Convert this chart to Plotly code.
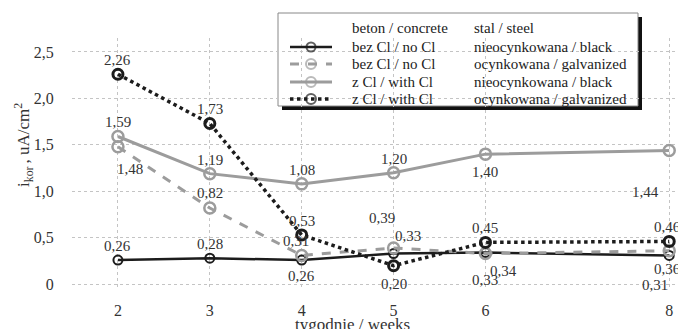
import plotly.graph_objects as go

weeks = [2, 3, 4, 5, 6, 8]
black_nocl = [0.26, 0.28, 0.26, 0.33, 0.34, 0.31]
galv_nocl = [1.48, 0.82, 0.31, 0.39, 0.33, 0.36]
black_cl = [1.59, 1.19, 1.08, 1.20, 1.40, 1.44]
galv_cl = [2.26, 1.73, 0.53, 0.20, 0.45, 0.46]

y_ticks = [0, 0.5, 1.0, 1.5, 2.0, 2.5]
y_tick_text = ["0", "0,5", "1,0", "1,5", "2,0", "2,5"]

FONT = "Liberation Serif"
BLACK = "#1c1c1c"
GRAY = "#9c9c9c"

# page offset of the figure (default body margin)
OFF = 8
W, H = 686, 329
# plot area in page pixels
PL, PR, PT, PB = 72, 683, 38, 287
FW, FH = W - OFF, H - OFF

series = [
    dict(y=black_nocl, color=BLACK, dash="solid", width=2.5, msize=9, mw=2,
         offs=[(0, 14), (0, 14), (0, -16), (14, 18), (18, -18), (-14, -30)]),
    dict(y=galv_nocl, color=GRAY, dash="dash", width=3, msize=11, mw=2.5,
         offs=[(12, -22), (0, 15), (-6, 14), (-12, 30), (0, -26), (-2, -18)]),
    dict(y=black_cl, color=GRAY, dash="solid", width=3, msize=11, mw=2.5,
         offs=[(0, 14), (0, 14), (0, 14), (0, 14), (0, -18), (-24, -42)]),
    dict(y=galv_cl, color=BLACK, dash="dot", width=3.5, msize=10, mw=3,
         offs=[(0, 14), (0, 14), (0, 14), (0, -18), (0, 14), (-2, 14)]),
]

fig = go.Figure()
annotations = []
for s in series:
    fig.add_trace(go.Scatter(
        x=weeks, y=s["y"], mode="lines+markers",
        line=dict(color=s["color"], dash=s["dash"], width=s["width"]),
        marker=dict(symbol="circle-open", size=s["msize"], color=s["color"],
                    line=dict(width=s["mw"], color=s["color"])),
        showlegend=False, hoverinfo="skip"))
    for xv, yv, (dx, dy) in zip(weeks, s["y"], s["offs"]):
        annotations.append(dict(
            x=xv, y=yv, xref="x", yref="y", text=f"{yv:.2f}".replace(".", ","),
            showarrow=False, xshift=dx, yshift=dy,
            font=dict(family=FONT, size=15, color="#333333")))

# Manual legend: paper coords are relative to the plot area
def px(x):
    return (x - PL) / (PR - PL)
def py(y):
    return (PB - y) / (PB - PT)

legend_rows = [
    ("bez Cl / no Cl", "nieocynkowana / black", BLACK, "solid", 2.5, 9),
    ("bez Cl / no Cl", "ocynkowana / galvanized", GRAY, "dash", 3, 10),
    ("z Cl / with Cl", "nieocynkowana / black", GRAY, "solid", 3, 10),
    ("z Cl / with Cl", "ocynkowana / galvanized", BLACK, "dot", 3.5, 10),
]
row_y = [47, 64, 82, 99]
LEG_FONT = dict(family=FONT, size=15, color="#222222")

shapes = [
    dict(type="rect", xref="paper", yref="paper", x0=px(282), x1=px(642),
         y0=py(17), y1=py(110), fillcolor="#111111", line=dict(width=0), layer="between"),
    dict(type="rect", xref="paper", yref="paper", x0=px(278), x1=px(638),
         y0=py(13), y1=py(106), fillcolor="white", line=dict(color="#888888", width=1), layer="between"),
]
for (c1, c2, col, dash, wdt, ms), ry in zip(legend_rows, row_y):
    fig.add_trace(go.Scatter(
        x=[290, 311, 332], y=[ry] * 3, xaxis="x2", yaxis="y2",
        mode="lines+markers",
        line=dict(color=col, dash=dash, width=wdt),
        marker=dict(symbol="circle-open", size=[0, ms, 0], color=col,
                    line=dict(width=2, color=col)),
        showlegend=False, hoverinfo="skip"))
    for tx, txt in ((350, c1), (472, c2)):
        annotations.append(dict(x=px(tx), y=py(ry), xref="paper", yref="paper", text=txt,
                                showarrow=False, xanchor="left", yanchor="middle",
                                font=LEG_FONT))
for tx, txt in ((350, "beton / concrete"), (472, "stal / steel")):
    annotations.append(dict(x=px(tx), y=py(28), xref="paper", yref="paper", text=txt,
                            showarrow=False, xanchor="left", yanchor="middle",
                            font=LEG_FONT))

# axis titles
annotations.append(dict(x=px(352), y=py(324), xref="paper", yref="paper",
                        text="tygodnie / weeks", showarrow=False,
                        xanchor="center", yanchor="middle",
                        font=dict(family=FONT, size=17, color="#333333")))
annotations.append(dict(x=px(23), y=py(145), xref="paper", yref="paper",
                        text="i<sub>kor </sub>, uA/cm<sup>2</sup>", showarrow=False,
                        textangle=-90, xanchor="center", yanchor="middle",
                        font=dict(family=FONT, size=17, color="#333333")))

fig.update_layout(
    width=FW, height=FH,
    margin=dict(l=PL - OFF, r=W - PR, t=PT - OFF, b=H - PB),
    paper_bgcolor="white", plot_bgcolor="white",
    font=dict(family=FONT, size=16, color="#333333"),
    xaxis=dict(range=[1.5, 8.15], tickvals=weeks, ticktext=[str(w) for w in weeks],
               showgrid=True, gridcolor="#c4c4c4", griddash="dot", gridwidth=1,
               zeroline=False, showline=False, ticks="outside", ticklen=9, tickcolor="white",
               automargin=False),
    yaxis=dict(range=[-0.03, 2.65], tickvals=y_ticks, ticktext=y_tick_text,
               showgrid=True, gridcolor="#c4c4c4", griddash="dot", gridwidth=1,
               zeroline=False, showline=False, ticks="outside", ticklen=14, tickcolor="white",
               automargin=False),
    xaxis2=dict(domain=[0, 1], range=[PL, PR], overlaying="x", visible=False, fixedrange=True),
    yaxis2=dict(domain=[0, 1], range=[PB, PT], overlaying="y", visible=False, fixedrange=True),
    shapes=shapes,
    annotations=annotations,
)

fig.write_html("out.html")
